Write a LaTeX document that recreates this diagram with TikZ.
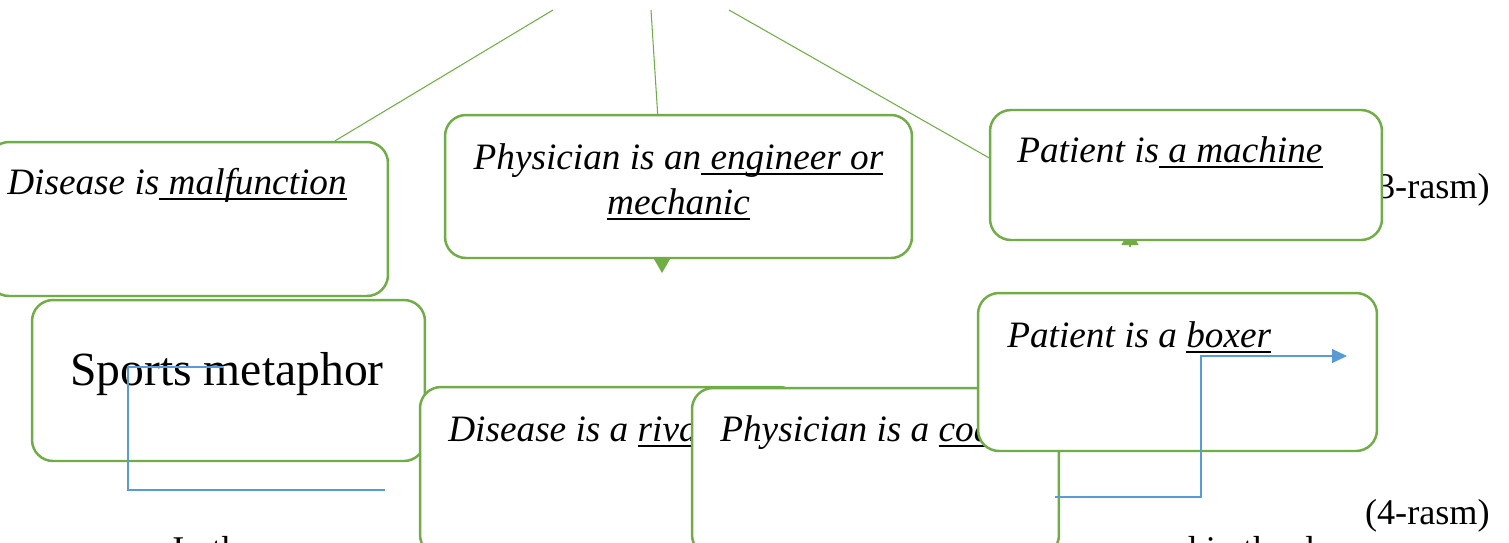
\documentclass[tikz,border=0pt]{standalone}
\usepackage{fontspec}
\setmainfont{Liberation Serif}
\usetikzlibrary{arrows.meta,calc,backgrounds}
\definecolor{boxgreen}{HTML}{70AD47}
\definecolor{flowblue}{HTML}{5B9BD5}
\newcommand{\underword}[1]{{\setbox0\hbox{#1}\rlap{\rule[-3.4pt]{\wd0}{1pt}}\box0}}
\tikzset{
    metaphor-box/.style = {draw=boxgreen, fill=white, line width=1.4pt, rectangle, rounded corners=0.42cm, inner sep=0pt},
    box-text/.style = {font=\fontsize{21.2}{25.6}\selectfont\itshape, inner sep=0pt, anchor=base west},
    body-text/.style = {font=\fontsize{20.6}{24}\selectfont, inner sep=0pt},
    link/.style = {draw=boxgreen, line width=0.6pt},
    green-tip/.style = {draw=boxgreen, line width=0.6pt, -{Triangle[length=0.3cm, width=0.34cm]}},
    flow/.style = {draw=flowblue, line width=0.7pt},
}

\begin{document}
\begin{tikzpicture}[x=0.02cm, y=-0.02cm]
\useasboundingbox (0,0) rectangle (1509,542);

% page text behind the shapes
\node[body-text, anchor=base west] (para-l) at (172,561) {In the};
\node[body-text, anchor=base west] (para-r) at (1130,561) {used in the d};
\node[body-text, anchor=base east] (fig-3) at (1490,198) {(3-rasm)};
\node[body-text, anchor=base east] (fig-4) at (1490,524) {(4-rasm)};

% upper group
\node [metaphor-box, minimum width=8cm, minimum height=3.08cm] (mal) at (188,219) {};
\node [metaphor-box, minimum width=9.34cm, minimum height=2.86cm] (eng) at (678.5,186.5) {};
\node [metaphor-box, minimum width=7.84cm, minimum height=2.6cm] (mach) at (1186,175) {};
\node[box-text] (mal-text) at (7,194) {Disease is\underword{ malfunction}};
\node[box-text, anchor=base] (eng-text-1) at (678.5,169) {Physician is an\underword{ engineer or}};
\node[box-text, anchor=base] (eng-text-2) at (678.5,214) {\underword{mechanic}};
\node[box-text] (mach-text) at (1017,162) {Patient is\underword{ a machine}};

\coordinate (top-l) at (553,10);
\coordinate (top-m) at (651,10);
\coordinate (top-r) at (729,10);
\coordinate (eng-tip) at (662,273);
\coordinate (mach-in) at (1130,247);
\coordinate (mach-tip) at (1130,230);
\begin{pgfonlayer}{background}
\draw[link] (top-l) -- (mal.28.8);
\draw[link] (top-m) -- (eng.106.7);
\draw[link] (top-r) -- (mach.175);
\draw[green-tip] (eng.south -| eng-tip) -- (eng-tip);
\draw[green-tip] (mach-in) -- (mach-tip);
\end{pgfonlayer}

% sports group
\node [metaphor-box, minimum width=7.86cm, minimum height=3.22cm] (sport) at (228.5,380.5) {};
\node[inner sep=0pt, anchor=base west, font=\fontsize{27.1}{30}\selectfont] (sport-text) at (70,385) {Sports metaphor};
\coordinate (sport-out) at (223,367);
\coordinate (sport-end) at (385,490);
\draw[flow] (sport-out) -| (128,490) -- (sport-end);

\node [metaphor-box, minimum width=7.6cm, minimum height=3.38cm] (rival) at (610,471.5) {};
\node[box-text] (rival-text) at (448,441) {Disease is a \underword{rival}};
\node [metaphor-box, minimum width=7.34cm, minimum height=3.36cm] (coach) at (875.5,472) {};
\node[box-text] (coach-text) at (720,441) {Physician is a \underword{coach}};
\node [metaphor-box, minimum width=7.98cm, minimum height=3.16cm] (boxer) at (1177.5,372) {};
\node[box-text] (boxer-text) at (1007,347) {Patient is a \underword{boxer}};

\coordinate (coach-out) at (1055,497);
\coordinate (boxer-in) at (1347,356);
\draw[flow, -{Triangle[length=0.3cm, width=0.28cm]}] (coach-out) -| ($(coach-out)!.5!(boxer-in)$) |- (boxer-in);
\end{tikzpicture}
\end{document}
